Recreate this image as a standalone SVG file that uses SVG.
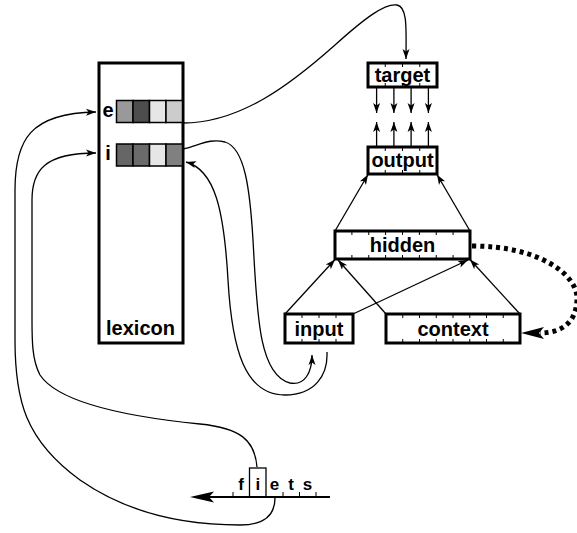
<svg xmlns="http://www.w3.org/2000/svg" width="577" height="533" viewBox="0 0 577 533">
  <style>
    .box { fill: #fff; stroke: #000; stroke-width: 3; }
    .tick { stroke: #000; stroke-width: 1; }
    .lbl { font-family: "Liberation Sans", Arial, sans-serif; font-weight: bold; font-size: 20px; text-anchor: middle; fill: #000; }
    .ltr { font-family: "Liberation Sans", Arial, sans-serif; font-weight: bold; font-size: 17px; text-anchor: middle; fill: #000; }
    .cell { stroke: #000; stroke-width: 1.5; }
    .wire { fill: none; stroke: #000; stroke-width: 1.3; marker-end: url(#arr); }
  </style>
  <defs>
    <marker id="arr" viewBox="-10 -5 10 10" refX="0" refY="0" markerWidth="10" markerHeight="10" markerUnits="userSpaceOnUse" orient="auto">
      <path d="M0,0 L-10,-3.5 L-7.5,0 L-10,3.5 Z" fill="#000"/>
    </marker>
  </defs>

  <!-- lexicon with two word vectors -->
  <g id="lexicon">
    <rect x="99" y="63" width="84" height="280" fill="#fff" stroke="#000" stroke-width="3"/>
    <text class="lbl" x="140.5" y="335">lexicon</text>
    <text class="lbl" x="108" y="117">e</text>
    <rect class="cell" x="116.5" y="100.5" width="16.5" height="22" fill="#999"/>
    <rect class="cell" x="133" y="100.5" width="16.5" height="22" fill="#4d4d4d"/>
    <rect class="cell" x="149.5" y="100.5" width="16.5" height="22" fill="#e6e6e6"/>
    <rect class="cell" x="166" y="100.5" width="16.5" height="22" fill="#ccc"/>
    <text class="lbl" x="108" y="160">i</text>
    <rect class="cell" x="116.5" y="144" width="16.5" height="22" fill="#666"/>
    <rect class="cell" x="133" y="144" width="16.5" height="22" fill="#6b6b6b"/>
    <rect class="cell" x="149.5" y="144" width="16.5" height="22" fill="#e6e6e6"/>
    <rect class="cell" x="166" y="144" width="16.5" height="22" fill="#808080"/>
  </g>

  <g id="target">
    <rect class="box" x="368" y="63" width="69" height="24"/>
    <path class="tick" d="M385.25,63v4M402.5,63v4M419.75,63v4M385.25,87v-4M402.5,87v-4M419.75,87v-4"/>
    <text class="lbl" x="402.5" y="82">target</text>
  </g>

  <g id="output">
    <rect class="box" x="368" y="147" width="69" height="27"/>
    <path class="tick" d="M385.25,147v4M402.5,147v4M419.75,147v4M385.25,174v-4M402.5,174v-4M419.75,174v-4"/>
    <text class="lbl" x="402.5" y="167">output</text>
  </g>

  <g id="hidden">
    <rect class="box" x="335" y="231" width="135" height="28"/>
    <path class="tick" d="M351.9,231v4M368.75,231v4M385.6,231v4M402.5,231v4M419.4,231v4M436.25,231v4M453.1,231v4M351.9,259v-4M368.75,259v-4M385.6,259v-4M402.5,259v-4M419.4,259v-4M436.25,259v-4M453.1,259v-4"/>
    <text class="lbl" x="402.5" y="252">hidden</text>
  </g>

  <g id="input">
    <rect class="box" x="285" y="314" width="68" height="29"/>
    <path class="tick" d="M302,314v4M319,314v4M336,314v4M302,343v-4M319,343v-4M336,343v-4"/>
    <text class="lbl" x="319" y="336">input</text>
  </g>

  <g id="context">
    <rect class="box" x="386" y="314" width="134" height="29"/>
    <path class="tick" d="M402.75,314v4M419.5,314v4M436.25,314v4M453,314v4M469.75,314v4M486.5,314v4M503.25,314v4M402.75,343v-4M419.5,343v-4M436.25,343v-4M453,343v-4M469.75,343v-4M486.5,343v-4M503.25,343v-4"/>
    <text class="lbl" x="453" y="336">context</text>
  </g>

  <!-- input word on a time line -->
  <g id="word">
    <line x1="330" y1="497" x2="205" y2="497" stroke="#000" stroke-width="2"/>
    <path d="M190,497 L214,491.5 L209,497 L214,502.5 Z" fill="#000"/>
    <path class="tick" d="M233,497v-5M283,497v-5M299.5,497v-5M316,497v-5"/>
    <rect x="249.5" y="468" width="16.5" height="29" fill="none" stroke="#000" stroke-width="1.3"/>
    <text class="ltr" x="241" y="490">f</text>
    <text class="ltr" x="257.75" y="490">i</text>
    <text class="ltr" x="274.5" y="490">e</text>
    <text class="ltr" x="291" y="490">t</text>
    <text class="ltr" x="307.5" y="490">s</text>
  </g>

  <g id="connectors">
    <!-- target -> output -->
    <path class="wire" d="M376.6,87V113"/>
    <path class="wire" d="M393.9,87V113"/>
    <path class="wire" d="M411.1,87V113"/>
    <path class="wire" d="M428.4,87V113"/>
    <!-- output -> target -->
    <path class="wire" d="M376.6,147V122"/>
    <path class="wire" d="M393.9,147V122"/>
    <path class="wire" d="M411.1,147V122"/>
    <path class="wire" d="M428.4,147V122"/>
    <!-- hidden -> output -->
    <path class="wire" d="M335,231L368,174.5"/>
    <path class="wire" d="M470,231L437,174.5"/>
    <!-- input, context -> hidden -->
    <path class="wire" d="M285,314L335,259.5"/>
    <path class="wire" d="M353,314L468,260"/>
    <path class="wire" d="M386,314L338,260"/>
    <path class="wire" d="M520,314L470,259.5"/>
    <!-- hidden -> context copy (dotted recurrence) -->
    <path d="M472,246 C540,246 577,275 577,298 C577,322 562,333 540,333" fill="none" stroke="#000" stroke-width="5" stroke-dasharray="4 4"/>
    <path d="M521,333 L544,327 L539,333 L544,339 Z" fill="#000"/>
    <!-- lexicon e -> target -->
    <path class="wire" d="M183,123 C240,123 290,85 335,45 C365,18 385,3 397,5 C408,7 406,30 406,59"/>
    <!-- lexicon i -> input -->
    <path class="wire" d="M183,149 C200,145 210,138 225,142 C245,148 250,190 253,240 C257,310 258,375 290,383 C305,386 312,372 312,355"/>
    <!-- input -> lexicon i -->
    <path class="wire" d="M327,352 C328,375 315,395 285,395 C245,395 232,350 228,280 C224,210 215,170 186,162"/>
    <!-- word line -> lexicon e -->
    <path class="wire" d="M275,498 C275,515 265,525 240,525 C190,525 130,515 80,480 C25,440 15,400 15,340 L15,190 C15,140 30,113 96,112"/>
    <!-- current letter i -> lexicon i -->
    <path class="wire" d="M257,467 C255,440 240,428 200,424 C140,418 60,405 40,375 C32,360 32,340 32,320 L32,200 C32,170 45,153 96,153"/>
  </g>
</svg>
